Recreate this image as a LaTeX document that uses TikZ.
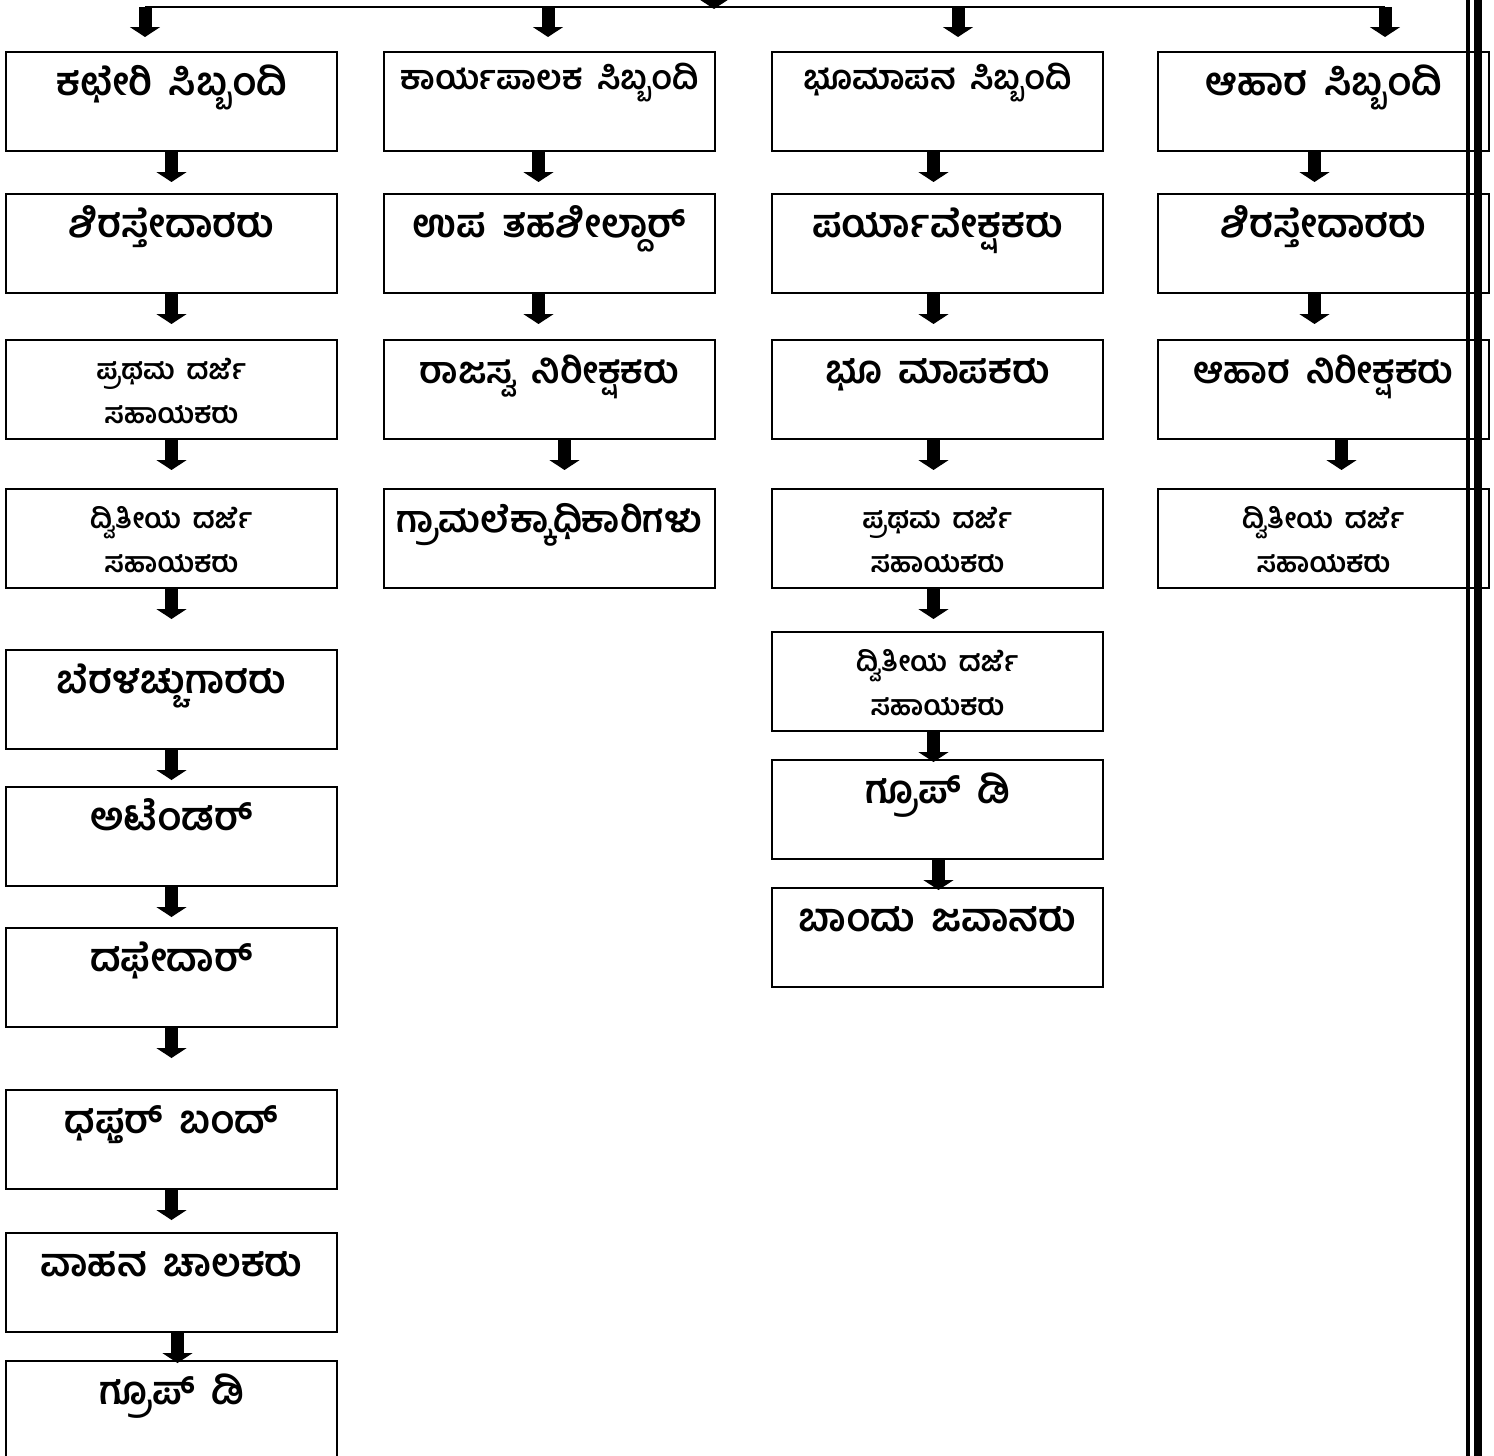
\documentclass[tikz,border=0pt]{standalone}
\usepackage{fontspec}
\newfontfamily\kn[Script=Kannada]{Hind Mysuru}
\usetikzlibrary{arrows.meta}
% text in a box of fixed size, top aligned: #1 size, #2 skip, #3 first baseline, #4 text
\newcommand\boxtxt[4]{\parbox[t][49.5pt][t]{165.5pt}{\centering\fontsize{#1}{#2}\selectfont\spaceskip=0.42em\rule{0pt}{#3}#4}}
\newcommand\txtL[1]{\boxtxt{19.5}{22}{21.5pt}{#1}}
\newcommand\txtW[1]{\boxtxt{18.5}{22}{21.5pt}{#1}}
\newcommand\txtM[1]{\boxtxt{16.8}{22}{18.5pt}{#1}}
\newcommand\txtS[1]{\boxtxt{14}{22}{19.5pt}{#1}}
\begin{document}
\begin{tikzpicture}[x=0.5pt,y=-0.5pt,
  box/.style={draw, line width=1pt, inner sep=0pt, anchor=north west, font=\kn\bfseries, fill=white},
  blk/.style={line width=6.5pt, -{Triangle[width=15pt,length=5pt]}},
  hub/.style={line width=1pt}]
\useasboundingbox (0,0) rectangle (1494,1456);
\fill[white] (0,0) rectangle (1494,1456);

% column 1
\node[box] (c1b1) at (5,51) {\txtL{ಕಛೇರಿ ಸಿಬ್ಬಂದಿ}};
\node[box] (c1b2) at (5,193) {\txtL{ಶಿರಸ್ತೇದಾರರು}};
\node[box] (c1b3) at (5,339) {\txtS{ಪ್ರಥಮ ದರ್ಜೆ\\ಸಹಾಯಕರು}};
\node[box] (c1b4) at (5,488) {\txtS{ದ್ವಿತೀಯ ದರ್ಜೆ\\ಸಹಾಯಕರು}};
\node[box] (c1b5) at (5,649) {\txtL{ಬೆರಳಚ್ಚುಗಾರರು}};
\node[box] (c1b6) at (5,786) {\txtL{ಅಟೆಂಡರ್}};
\node[box] (c1b7) at (5,927) {\txtL{ದಫೇದಾರ್}};
\node[box] (c1b8) at (5,1089) {\txtL{ಧಫ್ತರ್ ಬಂದ್}};
\node[box] (c1b9) at (5,1232) {\txtL{ವಾಹನ ಚಾಲಕರು}};
\node[box] (c1b10) at (5,1360) {\txtL{ಗ್ರೂಪ್ ಡಿ}};

% column 2
\node[box] (c2b1) at (383,51) {\txtM{ಕಾರ್ಯಪಾಲಕ ಸಿಬ್ಬಂದಿ}};
\node[box] (c2b2) at (383,193) {\txtL{ಉಪ ತಹಶೀಲ್ದಾರ್}};
\node[box] (c2b3) at (383,339) {\txtW{ರಾಜಸ್ವ ನಿರೀಕ್ಷಕರು}};
\node[box] (c2b4) at (383,488) {\txtW{ಗ್ರಾಮಲೆಕ್ಕಾಧಿಕಾರಿಗಳು}};

% column 3
\node[box] (c3b1) at (771,51) {\txtM{ಭೂಮಾಪನ ಸಿಬ್ಬಂದಿ}};
\node[box] (c3b2) at (771,193) {\txtL{ಪರ್ಯಾವೇಕ್ಷಕರು}};
\node[box] (c3b3) at (771,339) {\txtL{ಭೂ ಮಾಪಕರು}};
\node[box] (c3b4) at (771,488) {\txtS{ಪ್ರಥಮ ದರ್ಜೆ\\ಸಹಾಯಕರು}};
\node[box] (c3b5) at (771,631) {\txtS{ದ್ವಿತೀಯ ದರ್ಜೆ\\ಸಹಾಯಕರು}};
\node[box] (c3b6) at (771,759) {\txtL{ಗ್ರೂಪ್ ಡಿ}};
\node[box] (c3b7) at (771,887) {\txtL{ಬಾಂದು ಜವಾನರು}};

% column 4
\node[box] (c4b1) at (1157,51) {\txtL{ಆಹಾರ ಸಿಬ್ಬಂದಿ}};
\node[box] (c4b2) at (1157,193) {\txtL{ಶಿರಸ್ತೇದಾರರು}};
\node[box] (c4b3) at (1157,339) {\txtW{ಆಹಾರ ನಿರೀಕ್ಷಕರು}};
\node[box] (c4b4) at (1157,488) {\txtS{ದ್ವಿತೀಯ ದರ್ಜೆ\\ಸಹಾಯಕರು}};

% top distribution
\coordinate (src) at (714,-20);
\coordinate (hubc) at (714,9);
\coordinate (h1) at (145,7);
\coordinate (h2) at (548,7);
\coordinate (h3) at (958,7);
\coordinate (h4) at (1385,7);
\draw[hub] (h1) -- (h4);
\draw[blk] (src) -- (hubc);
\draw[blk] (h1) -- ([yshift=-15pt]h1);
\draw[blk] (h2) -- ([yshift=-15pt]h2);
\draw[blk] (h3) -- ([yshift=-15pt]h3);
\draw[blk] (h4) -- ([yshift=-15pt]h4);

% down arrows under boxes: box, x offset
\foreach \b/\dx in {c1b1/0pt,c1b2/0pt,c1b3/0pt,c1b4/0pt,c1b5/0pt,c1b6/0pt,c1b7/0pt,c1b8/0pt,c1b9/3pt,
  c2b1/-5.5pt,c2b2/-5.5pt,c2b3/7.5pt,
  c3b1/-2pt,c3b2/-2pt,c3b3/-2pt,c3b4/-2pt,c3b5/-2pt,c3b6/0.5pt,
  c4b1/-4.5pt,c4b2/-4.5pt,c4b3/9pt}
  \draw[blk] ([xshift=\dx]\b.south) -- ([xshift=\dx,yshift=-15pt]\b.south);

% right-hand double rule
\fill (1466,0) rectangle (1470,1456);
\fill (1474,0) rectangle (1482,1456);
\end{tikzpicture}
\end{document}
